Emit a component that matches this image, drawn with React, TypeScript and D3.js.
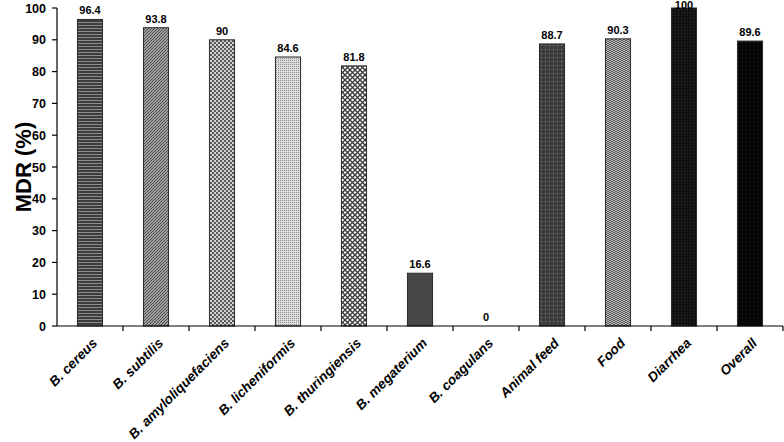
import React from 'react';
import * as d3 from 'd3';

const categories = [
  'B. cereus',
  'B. subtilis',
  'B. amyloliquefaciens',
  'B. licheniformis',
  'B. thuringiensis',
  'B. megaterium',
  'B. coagulans',
  'Animal feed',
  'Food',
  'Diarrhea',
  'Overall',
];
const mdr = [96.4, 93.8, 90, 84.6, 81.8, 16.6, 0, 88.7, 90.3, 100, 89.6];
const valueLabels = ['96.4', '93.8', '90', '84.6', '81.8', '16.6', '0', '88.7', '90.3', '100', '89.6'];
const yTicks = [0, 10, 20, 30, 40, 50, 60, 70, 80, 90, 100];
const patternIds = ['p1', 'p2', 'p3', 'p4', 'p5', 'p6', 'p6', 'p8', 'p9', 'p10', 'p11'];

const W = 784;
const H = 442;
const margin = { top: 8, right: 1, bottom: 116, left: 57 };
const font = '"Liberation Sans", Arial, sans-serif';

export default function App() {
  const x = d3
    .scaleBand<string>()
    .domain(categories)
    .range([margin.left, W - margin.right])
    .paddingInner(0.62)
    .paddingOuter(0.31);
  const step = x.step();
  const y = d3.scaleLinear().domain([0, 100]).range([H - margin.bottom, margin.top]);
  const y0 = y(0);

  return (
    <svg width={W} height={H} style={{ position: 'absolute', left: 0, top: 0, background: '#fff' }}>
      <defs>
        <pattern id="p1" width="4" height="3" patternUnits="userSpaceOnUse">
          <rect width="4" height="3" fill="#3c3c3c" />
          <rect y="1" width="4" height="1" fill="#8a8a8a" />
        </pattern>
        <pattern id="p2" width="3" height="3" patternUnits="userSpaceOnUse">
          <rect width="3" height="3" fill="#c4c4c4" />
          <path d="M0,3 L3,0 M-1,1 L1,-1 M2,4 L4,2" stroke="#444" strokeWidth="1.1" />
        </pattern>
        <pattern id="p3" width="4" height="4" patternUnits="userSpaceOnUse">
          <rect width="4" height="4" fill="#d0d0d0" />
          <rect width="2" height="2" fill="#5a5a5a" />
          <rect x="2" y="2" width="2" height="2" fill="#5a5a5a" />
        </pattern>
        <pattern id="p4" width="2" height="2" patternUnits="userSpaceOnUse">
          <rect width="2" height="2" fill="#dcdcdc" />
          <rect width="1" height="1" fill="#8e8e8e" />
        </pattern>
        <pattern id="p5" width="5" height="5" patternUnits="userSpaceOnUse">
          <rect width="5" height="5" fill="#fff" />
          <path d="M0,0 L5,5 M5,0 L0,5" stroke="#3a3a3a" strokeWidth="1.3" />
        </pattern>
        <pattern id="p6" width="4" height="4" patternUnits="userSpaceOnUse">
          <rect width="4" height="4" fill="#474747" />
        </pattern>
        <pattern id="p8" width="4" height="4" patternUnits="userSpaceOnUse">
          <rect width="4" height="4" fill="#3e3e3e" />
          <rect x="1" y="1" width="1" height="1" fill="#8c8c8c" />
        </pattern>
        <pattern id="p9" width="4" height="4" patternUnits="userSpaceOnUse">
          <rect width="4" height="4" fill="#bdbdbd" />
          <path d="M0,2 L2,0 L4,2 M0,4 L2,2 L4,4" stroke="#555" strokeWidth="1" fill="none" />
        </pattern>
        <pattern id="p10" width="3" height="3" patternUnits="userSpaceOnUse">
          <rect width="3" height="3" fill="#111" />
          <rect width="1" height="1" fill="#2e2e2e" />
        </pattern>
        <pattern id="p11" width="4" height="4" patternUnits="userSpaceOnUse">
          <rect width="4" height="4" fill="#050505" />
          <rect x="2" y="2" width="1" height="1" fill="#222" />
        </pattern>
      </defs>

      {/* bars */}
      {categories.map((c, i) => (
        <g key={c}>
          {mdr[i] > 0 && (
            <rect
              x={x(c)}
              y={y(mdr[i])}
              width={x.bandwidth()}
              height={y0 - y(mdr[i])}
              fill={`url(#${patternIds[i]})`}
              stroke="#2a2a2a"
              strokeWidth={1}
            />
          )}
          <text
            x={(x(c) as number) + x.bandwidth() / 2}
            y={Math.max(y(mdr[i]) - 5, 9)}
            textAnchor="middle"
            fontFamily={font}
            fontWeight="bold"
            fontSize={11}
            fill="#000"
          >
            {valueLabels[i]}
          </text>
        </g>
      ))}

      {/* y axis */}
      <line x1={margin.left} x2={margin.left} y1={y(100)} y2={y0} stroke="#000" strokeWidth={1.2} />
      {yTicks.map((t) => (
        <g key={t}>
          <line x1={margin.left - 5} x2={margin.left} y1={y(t)} y2={y(t)} stroke="#000" strokeWidth={1.2} />
          <text
            x={margin.left - 11}
            y={y(t)}
            dy="0.36em"
            textAnchor="end"
            fontFamily={font}
            fontWeight="bold"
            fontSize={12.5}
          >
            {t}
          </text>
        </g>
      ))}
      <text
        transform={`translate(31, ${(y(100) + y0) / 2}) rotate(-90)`}
        textAnchor="middle"
        fontFamily={font}
        fontWeight="bold"
        fontSize={22}
      >
        MDR (%)
      </text>

      {/* x axis */}
      <line x1={margin.left} x2={W - margin.right} y1={y0} y2={y0} stroke="#000" strokeWidth={1.2} />
      {categories.map((c, i) => {
        const edge = margin.left + step * (i + 1);
        return (
          <line key={c} x1={edge} x2={edge} y1={y0} y2={y0 + 5} stroke="#000" strokeWidth={1.2} />
        );
      })}
      {categories.map((c) => {
        const cx = (x(c) as number) + x.bandwidth() / 2;
        return (
          <text
            key={c}
            transform={`translate(${cx + 8}, ${y0 + 18}) rotate(-45)`}
            textAnchor="end"
            fontFamily={font}
            fontWeight="bold"
            fontStyle="italic"
            fontSize={13.6}
          >
            {c}
          </text>
        );
      })}
    </svg>
  );
}
